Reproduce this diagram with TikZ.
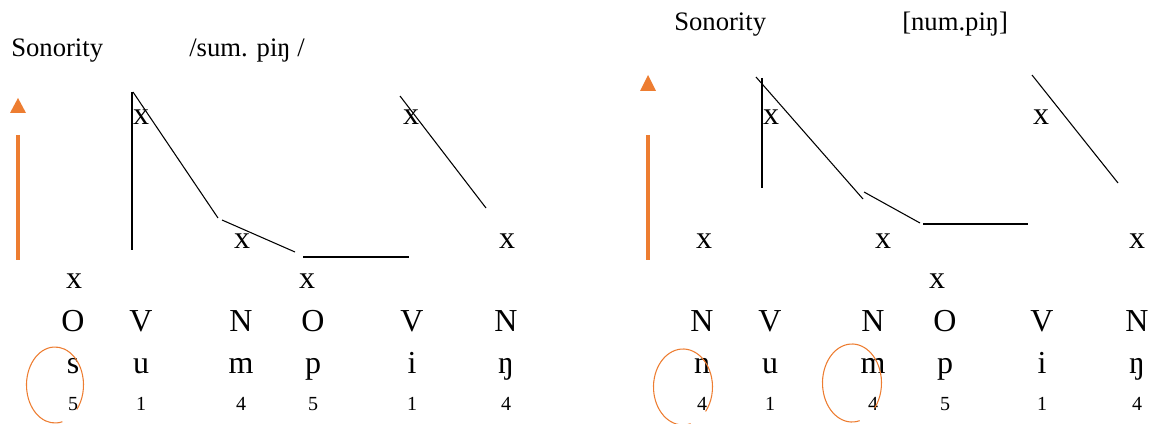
\documentclass[tikz,border=0pt]{standalone}
\usepackage{fontspec}
\setmainfont{Liberation Serif}
\definecolor{sonor}{RGB}{237,125,49}
\begin{document}
\begin{tikzpicture}[x=0.75pt,y=-0.75pt,
  title/.style={font=\fontsize{20}{24}\selectfont,anchor=base west,inner sep=0pt},
  big/.style={font=\fontsize{24}{28}\selectfont,anchor=base,inner sep=0pt},
  mark x/.style={font=\fontsize{24}{28}\selectfont,anchor=base,inner sep=0pt},
  num/.style={font=\fontsize{15}{18}\selectfont,anchor=base,inner sep=0pt},
  contour/.style={black,line width=0.8pt},
  axisbar/.style={sonor,line width=3pt},
  axishead/.style={fill=sonor,draw=none},
  ring/.style={sonor,line width=0.8pt}]
\useasboundingbox (0,0) rectangle (1153,424);

% ---------- left panel ----------
\node[title] (sonL) at (11,57) {Sonority};
\node[title] (wordL) at (189,57) {/sum. piŋ /};
\fill[axishead] (10,113) -- (26,113) -- (18,98) -- cycle;
\coordinate (barLt) at (18,135); \coordinate (barLb) at (18,260);
\draw[axisbar] (barLt) -- (barLb);

\node[mark x] (xL1) at (74,288) {x};
\node[mark x] (xL2) at (141,125) {x};
\node[mark x] (xL3) at (242,248) {x};
\node[mark x] (xL4) at (307,288) {x};
\node[mark x] (xL5) at (411,125) {x};
\node[mark x] (xL6) at (507,248) {x};

\coordinate (a1) at (132,92);  \coordinate (a2) at (132,250);
\coordinate (b1) at (133,92);  \coordinate (b2) at (218,218);
\coordinate (c1) at (222,220); \coordinate (c2) at (295,252);
\coordinate (d1) at (303,257); \coordinate (d2) at (409,257);
\coordinate (e1) at (400,96);  \coordinate (e2) at (486,208);
\draw[contour] (a1) -- (a2);
\draw[contour] (b1) -- (b2);
\draw[contour] (c1) -- (c2);
\draw[contour] (d1) -- (d2);
\draw[contour] (e1) -- (e2);

\foreach \n/\xx/\c/\l/\d in {1/73/O/s/5, 2/141/V/u/1, 3/241/N/m/4, 4/313/O/p/5, 5/412/V/i/1, 6/506/N/ŋ/4}{
  \node[big] (cL\n) at (\xx,331) {\c};
  \node[big] (sL\n) at (\xx,373) {\l};
  \node[num] (nL\n) at (\xx,410) {\d};
}
\coordinate (ringL) at (55,385);
\draw[ring] (ringL) ++(75:28.5 and 38) arc[start angle=75,end angle=400,x radius=28.5,y radius=38];

% ---------- right panel ----------
\node[title] (sonR) at (674,31) {Sonority};
\node[title] (wordR) at (902,31) {[num.piŋ]};
\fill[axishead] (640,91) -- (656,91) -- (648,75) -- cycle;
\coordinate (barRt) at (648,135); \coordinate (barRb) at (648,260);
\draw[axisbar] (barRt) -- (barRb);

\node[mark x] (xR1) at (704,248) {x};
\node[mark x] (xR2) at (771,125) {x};
\node[mark x] (xR3) at (883,248) {x};
\node[mark x] (xR4) at (937,288) {x};
\node[mark x] (xR5) at (1041,125) {x};
\node[mark x] (xR6) at (1137,248) {x};

\coordinate (f1) at (762,78);   \coordinate (f2) at (762,188);
\coordinate (g1) at (756,77);   \coordinate (g2) at (863,199);
\coordinate (h1) at (864,192);  \coordinate (h2) at (920,223);
\coordinate (i1) at (923,224);  \coordinate (i2) at (1028,224);
\coordinate (j1) at (1032,75);  \coordinate (j2) at (1118,183);
\draw[contour] (f1) -- (f2);
\draw[contour] (g1) -- (g2);
\draw[contour] (h1) -- (h2);
\draw[contour] (i1) -- (i2);
\draw[contour] (j1) -- (j2);

\foreach \n/\xx/\c/\l/\d in {1/702/N/n/4, 2/770/V/u/1, 3/873/N/m/4, 4/945/O/p/5, 5/1042/V/i/1, 6/1137/N/ŋ/4}{
  \node[big] (cR\n) at (\xx,331) {\c};
  \node[big] (sR\n) at (\xx,373) {\l};
  \node[num] (nR\n) at (\xx,410) {\d};
}
\coordinate (ringR1) at (683,387);
\coordinate (ringR2) at (852,383);
\draw[ring] (ringR1) ++(75:29.5 and 38) arc[start angle=75,end angle=400,x radius=29.5,y radius=38];
\draw[ring] (ringR2) ++(75:29.5 and 39) arc[start angle=75,end angle=400,x radius=29.5,y radius=39];
\end{tikzpicture}
\end{document}
